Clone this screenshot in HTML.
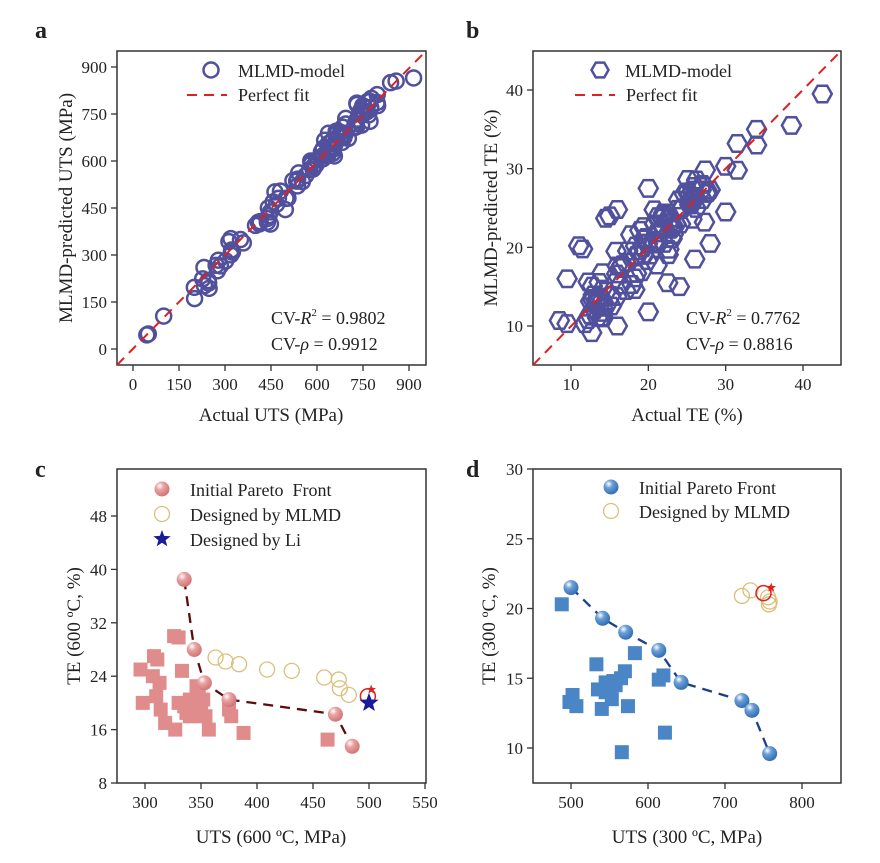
<!DOCTYPE html>
<html><head><meta charset="utf-8"><style>
body{margin:0;background:#fff}
svg text{font-family:"Liberation Serif",serif;fill:#222}
</style></head><body>
<svg id="s" width="880" height="858" xmlns="http://www.w3.org/2000/svg">
<defs>
<radialGradient id="gp" cx="0.35" cy="0.3" r="0.75"><stop offset="0" stop-color="#fff"/><stop offset="0.35" stop-color="#e9a3a3"/><stop offset="1" stop-color="#d07070"/></radialGradient>
<radialGradient id="gb" cx="0.35" cy="0.3" r="0.75"><stop offset="0" stop-color="#fff"/><stop offset="0.35" stop-color="#6a9fd6"/><stop offset="1" stop-color="#2f6aae"/></radialGradient>
<clipPath id="ca"><rect x="117" y="51" width="309" height="314"/></clipPath>
<clipPath id="cb"><rect x="533" y="51" width="308" height="314"/></clipPath>
</defs>
</svg>
<script>
const S=document.getElementById('s');let H='';
function t(x,y,s,o){H+=`<text x="${x}" y="${y}" ${o||''}>${s}</text>`}
let seed=7;function r(){seed=(seed*16807)%2147483647;return seed/2147483647}
function g(){return (r()+r()+r()-1.5)*1.4}
function frame(x0,y0,x1,y1){H+=`<rect x="${x0}" y="${y0}" width="${x1-x0}" height="${y1-y0}" fill="none" stroke="#333" stroke-width="1.5"/>`}
function yt(x0,y,l){H+=`<line x1="${x0-6}" y1="${y}" x2="${x0}" y2="${y}" stroke="#333" stroke-width="1.3"/>`;t(x0-10,y+6,l,'font-size="17" text-anchor="end"')}
function xt(x,y1,l){H+=`<line x1="${x}" y1="${y1}" x2="${x}" y2="${y1+6}" stroke="#333" stroke-width="1.3"/>`;t(x,y1+25,l,'font-size="17" text-anchor="middle"')}
const PC='#50509c';
// ---- a
frame(117,51,426,365);
let ax=v=>133+v*276/900, ay=v=>349-v*282/900;
[0,150,300,450,600,750,900].forEach(v=>{yt(117,ay(v),v);xt(ax(v),365,v)});
H+=`<g clip-path="url(#ca)">`;
let pa=[[45,45],[50,48],[100,105],[840,850],[858,855],[915,865]];
for(let i=0;i<110;i++){let a=200+r()*600;pa.push([a,a+g()*30])}
pa.forEach(p=>H+=`<circle cx="${ax(p[0])}" cy="${ay(p[1])}" r="7.5" fill="none" stroke="${PC}" stroke-width="2.5"/>`);
H+=`<line x1="117" y1="365" x2="426" y2="51" stroke="#e02020" stroke-width="2" stroke-dasharray="10,7"/></g>`;
H+=`<circle cx="211" cy="70" r="7.5" fill="none" stroke="${PC}" stroke-width="2.5"/>`;t(238,77,'MLMD-model','font-size="18"');
H+=`<line x1="187" y1="95" x2="227" y2="95" stroke="#e02020" stroke-width="2" stroke-dasharray="10,7"/>`;t(238,101,'Perfect fit','font-size="18"');
t(271,324,'CV-<tspan font-style="italic">R</tspan><tspan font-size="11" dy="-8">2</tspan><tspan dy="8"> = 0.9802</tspan>','font-size="18"');
t(271,350,'CV-<tspan font-style="italic">ρ</tspan> = 0.9912','font-size="18"');
t(271,421,'Actual UTS (MPa)','font-size="19" text-anchor="middle"');
t(0,0,'MLMD-predicted UTS (MPa)','font-size="19" text-anchor="middle" transform="translate(72,208) rotate(-90)"');
t(35,38,'a','font-size="24" font-weight="bold"');
// ---- b
frame(533,51,841,365);
let bx=v=>571+(v-10)*232/30, by=v=>326-(v-10)*236/30;
[10,20,30,40].forEach(v=>{yt(533,by(v),v);xt(bx(v),365,v)});
function hex(cx,cy,R){let p=[];for(let k=0;k<6;k++){let a=Math.PI/3*k;p.push((cx+R*Math.cos(a)).toFixed(1)+','+(cy+R*Math.sin(a)).toFixed(1))}return `<polygon points="${p.join(' ')}" fill="none" stroke="${PC}" stroke-width="2.5"/>`}
H+=`<g clip-path="url(#cb)">`;
let pb=[[42.5,39.5],[38.5,35.5],[34,35],[34,33],[31.5,33.2],[31.5,29.8],[30,30.3],[30,24.5],[20,27.5],[14.5,23.7],[15,24],[16,24.8],[9.5,16],[8.5,10.7],[9.5,10.3],[11.8,10.3],[16,10],[20,11.8],[11,20.2],[11.5,19.8],[28,20.5],[27,28],[28,27.3],[26,18.5],[24,15],[22.5,15.5]];
for(let i=0;i<105;i++){let a=12+r()*16;pb.push([a,a+g()*2.4])}
pb.forEach(p=>H+=hex(bx(p[0]),by(p[1]),9.5));
H+=`<line x1="533" y1="365" x2="841" y2="51" stroke="#e02020" stroke-width="2" stroke-dasharray="10,7"/></g>`;
H+=hex(600,70,8.5);t(625,77,'MLMD-model','font-size="18"');
H+=`<line x1="575" y1="95" x2="615" y2="95" stroke="#e02020" stroke-width="2" stroke-dasharray="10,7"/>`;t(626,101,'Perfect fit','font-size="18"');
t(686,324,'CV-<tspan font-style="italic">R</tspan><tspan font-size="11" dy="-8">2</tspan><tspan dy="8"> = 0.7762</tspan>','font-size="18"');
t(686,350,'CV-<tspan font-style="italic">ρ</tspan> = 0.8816','font-size="18"');
t(687,421,'Actual TE (%)','font-size="19" text-anchor="middle"');
t(0,0,'MLMD-predicted TE (%)','font-size="19" text-anchor="middle" transform="translate(497,208) rotate(-90)"');
t(466,38,'b','font-size="24" font-weight="bold"');
function star(cx,cy,R,c){let p=[];for(let k=0;k<10;k++){let a=-Math.PI/2+Math.PI/5*k,rr=k%2?R*0.42:R;p.push((cx+rr*Math.cos(a)).toFixed(1)+','+(cy+rr*Math.sin(a)).toFixed(1))}return `<polygon points="${p.join(' ')}" fill="${c}"/>`}
// ---- c
frame(117,469,426,783);
let cx=v=>145+(v-300)*224/200, cy=v=>783-(v-8)*267/40;
[8,16,24,32,40,48].forEach(v=>yt(117,cy(v),v));[300,350,400,450,500,550].forEach(v=>xt(cx(v),783,v));
[[296,25],[298,20],[308,27],[311,26.5],[307,24],[313,23],[310,21],[314,19],[318,17],[326,30],[330,29.8],[333,24.8],[327,16],[330,20],[335,19.5],[340,20.5],[343,18],[346,22.5],[348,21],[350,19],[354,18],[357,16],[375,19],[377,18],[388,15.5],[463,14.5],[340,18],[345,20],[352,20.5],[337,18.5],[346,19.5]].forEach(p=>H+=`<rect x="${cx(p[0])-7}" y="${cy(p[1])-7}" width="14" height="14" fill="#e08c8c"/>`);
let pc=[[335,38.5],[344,28],[353,23],[375,20.5],[470,18.3],[485,13.5]];
H+=`<polyline points="${pc.map(p=>cx(p[0])+','+cy(p[1])).join(' ')}" fill="none" stroke="#5a0c0c" stroke-width="2.3" stroke-dasharray="10,7"/>`;
pc.forEach(p=>H+=`<circle cx="${cx(p[0])}" cy="${cy(p[1])}" r="7.5" fill="url(#gp)"/>`);
[[363,26.8],[372,26.2],[384,25.8],[409,25],[431,24.8],[460,23.8],[473,23.5],[474,22.2],[482,21.2]].forEach(p=>H+=`<circle cx="${cx(p[0])}" cy="${cy(p[1])}" r="7.5" fill="none" stroke="#d9c07a" stroke-width="1.3"/>`);
H+=`<circle cx="${cx(499)}" cy="${cy(21)}" r="7.5" fill="none" stroke="#e02020" stroke-width="1.5"/>`+star(cx(502),cy(22),5,'#e02020')+star(cx(500),cy(20),10,'#1a1a9a');
H+=`<circle cx="162" cy="489" r="7.5" fill="url(#gp)"/><circle cx="162" cy="514" r="7.5" fill="none" stroke="#d9c07a" stroke-width="1.3"/>`+star(162,539,9,'#1a1a9a');
t(190,496,'Initial Pareto&#160; Front','font-size="18"');t(190,521,'Designed by MLMD','font-size="18"');t(190,546,'Designed by Li','font-size="18"');
t(271,843,'UTS (600 ºC, MPa)','font-size="19" text-anchor="middle"');
t(0,0,'TE (600 ºC, %)','font-size="19" text-anchor="middle" transform="translate(80,626) rotate(-90)"');
t(35,477,'c','font-size="24" font-weight="bold"');
// ---- d
frame(533,469,841,783);
let dx=v=>571+(v-500)*231/300, dy=v=>748-(v-10)*279/20;
[10,15,20,25,30].forEach(v=>yt(533,dy(v),v));[500,600,700,800].forEach(v=>xt(dx(v),783,v));
[[488,20.3],[498,13.3],[502,13.8],[507,13],[533,16],[535,14.2],[540,12.8],[545,14.7],[550,14.3],[553,13.5],[555,14.8],[565,15],[570,15.5],[574,13],[583,16.8],[566,9.7],[614,14.9],[620,15.2],[622,11.1],[545,14],[558,14.5]].forEach(p=>H+=`<rect x="${dx(p[0])-7}" y="${dy(p[1])-7}" width="14" height="14" fill="#4a86c6"/>`);
let pd=[[500,21.5],[541,19.3],[571,18.3],[614,17],[643,14.7],[722,13.4],[735,12.7],[758,9.6]];
H+=`<polyline points="${pd.map(p=>dx(p[0])+','+dy(p[1])).join(' ')}" fill="none" stroke="#1e3f8a" stroke-width="2.3" stroke-dasharray="10,7"/>`;
pd.forEach(p=>H+=`<circle cx="${dx(p[0])}" cy="${dy(p[1])}" r="7.5" fill="url(#gb)"/>`);
[[722,20.9],[733,21.3],[756,20.8],[758,20.5],[757,20.3]].forEach(p=>H+=`<circle cx="${dx(p[0])}" cy="${dy(p[1])}" r="7.5" fill="none" stroke="#d9c07a" stroke-width="1.3"/>`);
H+=`<circle cx="${dx(750)}" cy="${dy(21.1)}" r="7.5" fill="none" stroke="#e02020" stroke-width="1.5"/>`+star(dx(760),dy(21.5),5,'#e02020');
H+=`<circle cx="611" cy="487" r="7.5" fill="url(#gb)"/><circle cx="611" cy="511" r="7.5" fill="none" stroke="#d9c07a" stroke-width="1.3"/>`;
t(639,494,'Initial Pareto Front','font-size="18"');t(639,518,'Designed by MLMD','font-size="18"');
t(687,843,'UTS (300 ºC, MPa)','font-size="19" text-anchor="middle"');
t(0,0,'TE (300 ºC, %)','font-size="19" text-anchor="middle" transform="translate(495,626) rotate(-90)"');
t(466,477,'d','font-size="24" font-weight="bold"');
S.innerHTML+=H;
</script>
</body></html>
